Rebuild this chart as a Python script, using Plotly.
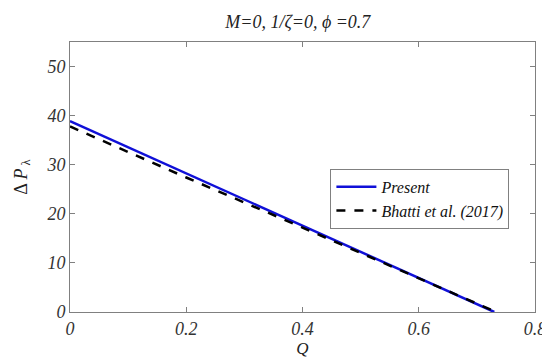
import plotly.graph_objects as go

q_present = [0.0, 0.2, 0.4, 0.6, 0.73]
dp_present = [38.9, 28.2, 17.5, 6.9, 0.0]
q_bhatti = [0.0, 0.2, 0.4, 0.6, 0.733]
dp_bhatti = [37.8, 27.4, 17.2, 6.8, 0.0]

x_ticks = [0, 0.2, 0.4, 0.6, 0.8]
x_tick_labels = ["0", "0.2", "0.4", "0.6", "0.8"]
y_ticks = [0, 10, 20, 30, 40, 50]
y_tick_labels = ["0", "10", "20", "30", "40", "50"]

serif = "Liberation Serif"

fig = go.Figure()
fig.add_trace(go.Scatter(x=q_present, y=dp_present, mode="lines", name="Present",
                         line=dict(color="#1010d8", width=2.5)))
fig.add_trace(go.Scatter(x=q_bhatti, y=dp_bhatti, mode="lines", name="Bhatti et al. (2017)",
                         line=dict(color="black", width=2.5, dash="dash")))

axis_common = dict(showline=True, linecolor="#808080", linewidth=1, mirror="ticks",
                   ticks="inside", ticklen=5, tickcolor="#808080", showgrid=False,
                   zeroline=False, tickfont=dict(family=serif, size=18, color="#333", style="italic"))

fig.update_layout(
    width=550, height=358,
    margin=dict(l=62, r=18, t=34, b=54),
    paper_bgcolor="white", plot_bgcolor="white",
    title=dict(text="M=0, 1/ζ=0, ϕ =0.7", x=0.527, xanchor="center", y=0.963, yanchor="middle",
               font=dict(family=serif, size=18, color="#222", style="italic")),
    xaxis=dict(range=[0, 0.8], tickvals=x_ticks, ticktext=x_tick_labels,
               title=dict(text="Q", standoff=0, font=dict(family=serif, size=17, color="#222", style="italic")),
               **axis_common),
    yaxis=dict(range=[0, 55], tickvals=y_ticks, ticktext=y_tick_labels,
               title=dict(text="Δ <i>P</i><sub> λ</sub>", standoff=14, font=dict(family=serif, size=18, color="#222")),
               **axis_common),
    legend=dict(x=0.56, y=0.53, xanchor="left", yanchor="top",
                bordercolor="#808080", borderwidth=1, bgcolor="white",
                font=dict(family=serif, size=16, color="#111", style="italic"),
                tracegroupgap=0, itemwidth=40),
)

fig.write_html("out.html")
